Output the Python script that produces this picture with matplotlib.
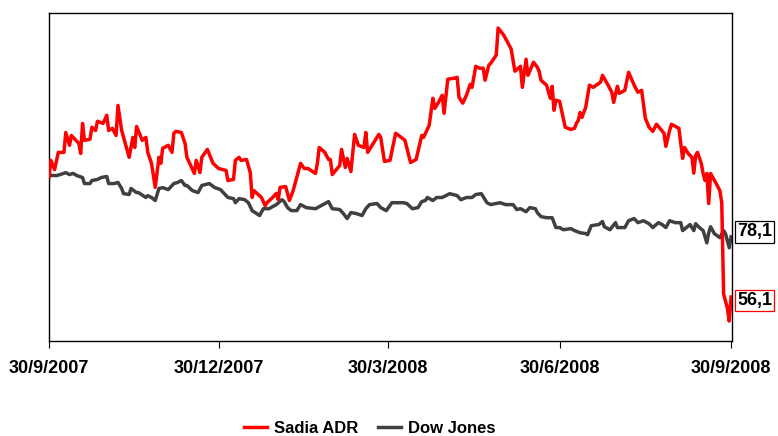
import matplotlib
matplotlib.use("Agg")
import matplotlib.pyplot as plt
import numpy as np

plt.rcParams['font.family'] = ['Liberation Sans', 'DejaVu Sans']

start = np.datetime64('2007-09-30')

# days since 30/9/2007, index (30/9/2007 = 100)
sadia_days = [0, 1, 3, 5, 8, 9, 11, 12, 16, 17, 18, 19, 22, 23, 25, 26, 29, 31, 32, 34,
              36, 37, 39, 43, 45, 46, 47, 49, 50, 52, 53, 55, 57, 59, 60, 61, 64, 66, 67, 68,
              71, 73, 74, 78, 79, 81, 82, 85, 88, 91, 95, 96, 99, 100, 102, 103, 106, 108, 109, 110,
              114, 116, 117, 120, 122, 123, 124, 127, 129, 131, 135, 137, 139, 143, 144, 145, 148, 150, 151, 152,
              156, 157, 159, 160, 162, 164, 166, 169, 170, 171, 177, 178, 180, 183, 186, 189, 191, 194, 197, 200,
              201, 204, 206, 207, 209, 211, 212, 214, 218, 219, 220, 222, 224, 226, 227, 229, 231, 233, 234, 236,
              237, 240, 241, 244, 246, 248, 250, 253, 254, 256, 257, 260, 262, 263, 264, 267, 269, 270, 271, 272,
              274, 277, 280, 282, 283, 284, 285, 286, 288, 290, 292, 296, 297, 300, 302, 303, 305, 306, 309, 311,
              314, 316, 318, 320, 322, 324, 326, 330, 331, 333, 334, 338, 339, 340, 341, 343, 345, 346, 347, 348,
              350, 351, 352, 353, 354, 355, 358, 360, 361, 362, 364, 365, 366]
sadia = [100.0, 106.1, 102.7, 109.0, 109.0, 116.3, 111.6, 115.2, 112.3, 108.6, 119.6, 113.4, 113.8, 118.2, 117.0, 120.4, 119.6, 122.6, 117.0, 117.8,
         115.2, 126.2, 117.0, 107.2, 114.5, 110.8, 118.5, 115.2, 113.4, 114.5, 109.0, 105.0, 96.2, 107.2, 105.0, 110.5, 111.6, 109.0, 116.0, 116.7,
         116.3, 112.3, 107.2, 101.3, 106.1, 101.6, 107.2, 110.1, 105.0, 103.1, 102.4, 98.7, 99.1, 106.1, 107.2, 106.1, 106.4, 101.6, 92.5, 95.0,
         92.5, 89.5, 90.6, 92.5, 94.0, 91.7, 96.2, 96.5, 91.4, 95.0, 105.0, 103.1, 103.1, 101.3, 105.0, 110.8, 109.0, 106.4, 106.4, 100.9,
         104.2, 110.1, 103.5, 106.8, 102.0, 115.6, 111.6, 110.8, 116.3, 109.0, 115.6, 114.5, 105.7, 106.1, 116.0, 114.5, 113.4, 105.3, 106.4, 115.2,
         114.5, 118.9, 128.8, 125.1, 127.3, 129.9, 123.3, 135.8, 136.2, 136.5, 129.2, 127.0, 129.9, 133.9, 132.8, 140.5, 139.8, 139.8, 135.4, 140.9,
         141.6, 144.6, 154.5, 151.9, 149.4, 146.8, 138.7, 140.5, 132.8, 143.1, 137.2, 142.0, 140.2, 138.7, 135.4, 133.6, 128.8, 133.2, 124.4, 128.1,
         127.7, 118.2, 117.4, 117.8, 119.6, 120.7, 123.6, 121.8, 125.5, 133.6, 132.8, 134.7, 137.2, 133.6, 131.0, 127.3, 133.2, 130.6, 131.7, 138.3,
         133.6, 131.0, 131.7, 121.5, 118.2, 116.7, 119.3, 116.0, 111.2, 117.0, 119.3, 117.8, 112.3, 106.8, 110.8, 108.6, 107.2, 101.4, 107.9, 109.0,
         105.0, 101.3, 98.7, 101.3, 90.3, 101.3, 97.6, 95.0, 90.6, 57.2, 52.0, 47.3, 56.1]

dow_days = [0, 1, 4, 6, 9, 11, 13, 15, 18, 19, 22, 23, 26, 28, 31, 32, 35, 37, 39, 40,
            43, 44, 47, 48, 52, 53, 55, 57, 59, 61, 64, 67, 69, 71, 73, 74, 77, 80, 82, 86,
            89, 92, 96, 99, 100, 102, 105, 107, 109, 113, 115, 118, 122, 125, 126, 128, 130, 133, 135, 138,
            143, 147, 150, 152, 156, 158, 160, 162, 165, 168, 170, 172, 176, 178, 181, 184, 190, 192, 195, 198,
            200, 202, 203, 206, 208, 211, 215, 219, 221, 224, 227, 229, 232, 235, 237, 242, 245, 249, 251, 253,
            256, 258, 261, 262, 264, 267, 270, 272, 274, 276, 280, 282, 285, 288, 289, 291, 295, 297, 298, 301,
            304, 305, 309, 311, 314, 316, 319, 322, 324, 327, 329, 331, 333, 336, 339, 340, 342, 344, 346, 347,
            349, 351, 353, 354, 355, 357, 360, 362, 363, 365, 366]
dow = [100.0, 100.6, 100.5, 100.9, 101.6, 100.9, 101.3, 100.5, 99.8, 97.6, 97.6, 98.7, 99.1, 99.8, 100.2, 97.6, 97.6, 98.0, 95.8, 93.9,
       93.6, 95.8, 94.3, 94.3, 92.5, 93.2, 92.5, 91.4, 95.8, 96.1, 95.4, 97.6, 98.0, 98.7, 96.9, 96.9, 95.0, 94.3, 96.9, 97.6,
       96.1, 95.4, 92.5, 92.1, 90.6, 92.1, 91.7, 90.6, 87.7, 85.9, 88.4, 88.4, 89.9, 91.7, 91.2, 88.8, 87.7, 87.7, 89.9, 88.8,
       88.4, 89.9, 91.0, 88.4, 88.1, 86.6, 84.8, 87.0, 86.6, 85.9, 88.4, 89.9, 90.3, 88.8, 87.7, 90.6, 90.6, 90.3, 88.4, 88.8,
       91.0, 91.4, 92.5, 91.4, 92.5, 92.5, 93.9, 93.2, 91.7, 92.5, 92.5, 93.6, 93.9, 90.6, 89.9, 90.6, 89.9, 89.9, 88.1, 88.4,
       87.3, 88.8, 88.4, 87.0, 85.5, 85.1, 85.1, 81.5, 81.5, 80.7, 81.1, 80.4, 79.6, 79.3, 78.9, 82.2, 82.6, 83.7, 81.8, 80.7,
       83.3, 81.5, 81.5, 84.0, 84.8, 83.3, 84.0, 82.9, 81.5, 83.3, 82.6, 81.5, 84.0, 83.3, 83.3, 80.4, 81.5, 82.6, 80.4, 82.9,
       81.5, 80.4, 75.9, 79.6, 81.8, 79.3, 77.8, 80.4, 79.3, 74.1, 78.1]

tick_dates = ['2007-09-30', '2007-12-30', '2008-03-30', '2008-06-30', '2008-09-30']
tick_labels = ['30/9/2007', '30/12/2007', '30/3/2008', '30/6/2008', '30/9/2008']
series_names = ['Sadia ADR', 'Dow Jones']

red = '#FF0000'
gray = '#404040'

sadia_x = start + np.array(sadia_days, dtype='timedelta64[D]')
dow_x = start + np.array(dow_days, dtype='timedelta64[D]')

fig = plt.figure(figsize=(7.78, 4.36), dpi=100)
ax = fig.add_axes([49 / 778, 1 - 341 / 436, (732 - 49) / 778, (341 - 13) / 436])

ax.plot(sadia_x, sadia, color=red, lw=2.5, label=series_names[0], zorder=3, solid_joinstyle='round')
ax.plot(dow_x, dow, color=gray, lw=2.5, label=series_names[1], zorder=2, solid_joinstyle='round')

ax.set_ylim(40, 160)
ax.set_xlim(start, start + np.timedelta64(366, 'D') + np.timedelta64(12, 'h'))
ax.set_yticks([])
ax.set_xticks(np.array(tick_dates, dtype='datetime64[D]'))
ax.set_xticklabels(tick_labels, fontsize=13, fontweight='bold')
ax.tick_params(axis='x', direction='out', length=5, width=0.8, pad=9)
for sp in ax.spines.values():
    sp.set_color('black')
    sp.set_linewidth(1.0)

# end-of-series labels
ax.annotate(f'{dow[-1]:.1f}'.replace('.', ','), xy=(dow_x[-1], dow[-1]), xytext=(4.5, 3.5),
            textcoords='offset points', fontsize=13, fontweight='bold', va='center', ha='left',
            bbox=dict(boxstyle='square,pad=0.12', fc='white', ec='black', lw=0.9), annotation_clip=False)
ax.annotate(f'{sadia[-1]:.1f}'.replace('.', ','), xy=(sadia_x[-1], sadia[-1]), xytext=(4.5, -2.5),
            textcoords='offset points', fontsize=13, fontweight='bold', va='center', ha='left',
            bbox=dict(boxstyle='square,pad=0.12', fc='white', ec=red, lw=0.9), annotation_clip=False)

fig.legend(loc='center', bbox_to_anchor=(369.5 / 778, 1 - 428 / 436), ncol=2, frameon=False,
           prop={'weight': 'bold', 'size': 12}, handlelength=1.4, handletextpad=0.4, columnspacing=1.2)

fig.savefig('out.png', dpi=100)
plt.close(fig)
